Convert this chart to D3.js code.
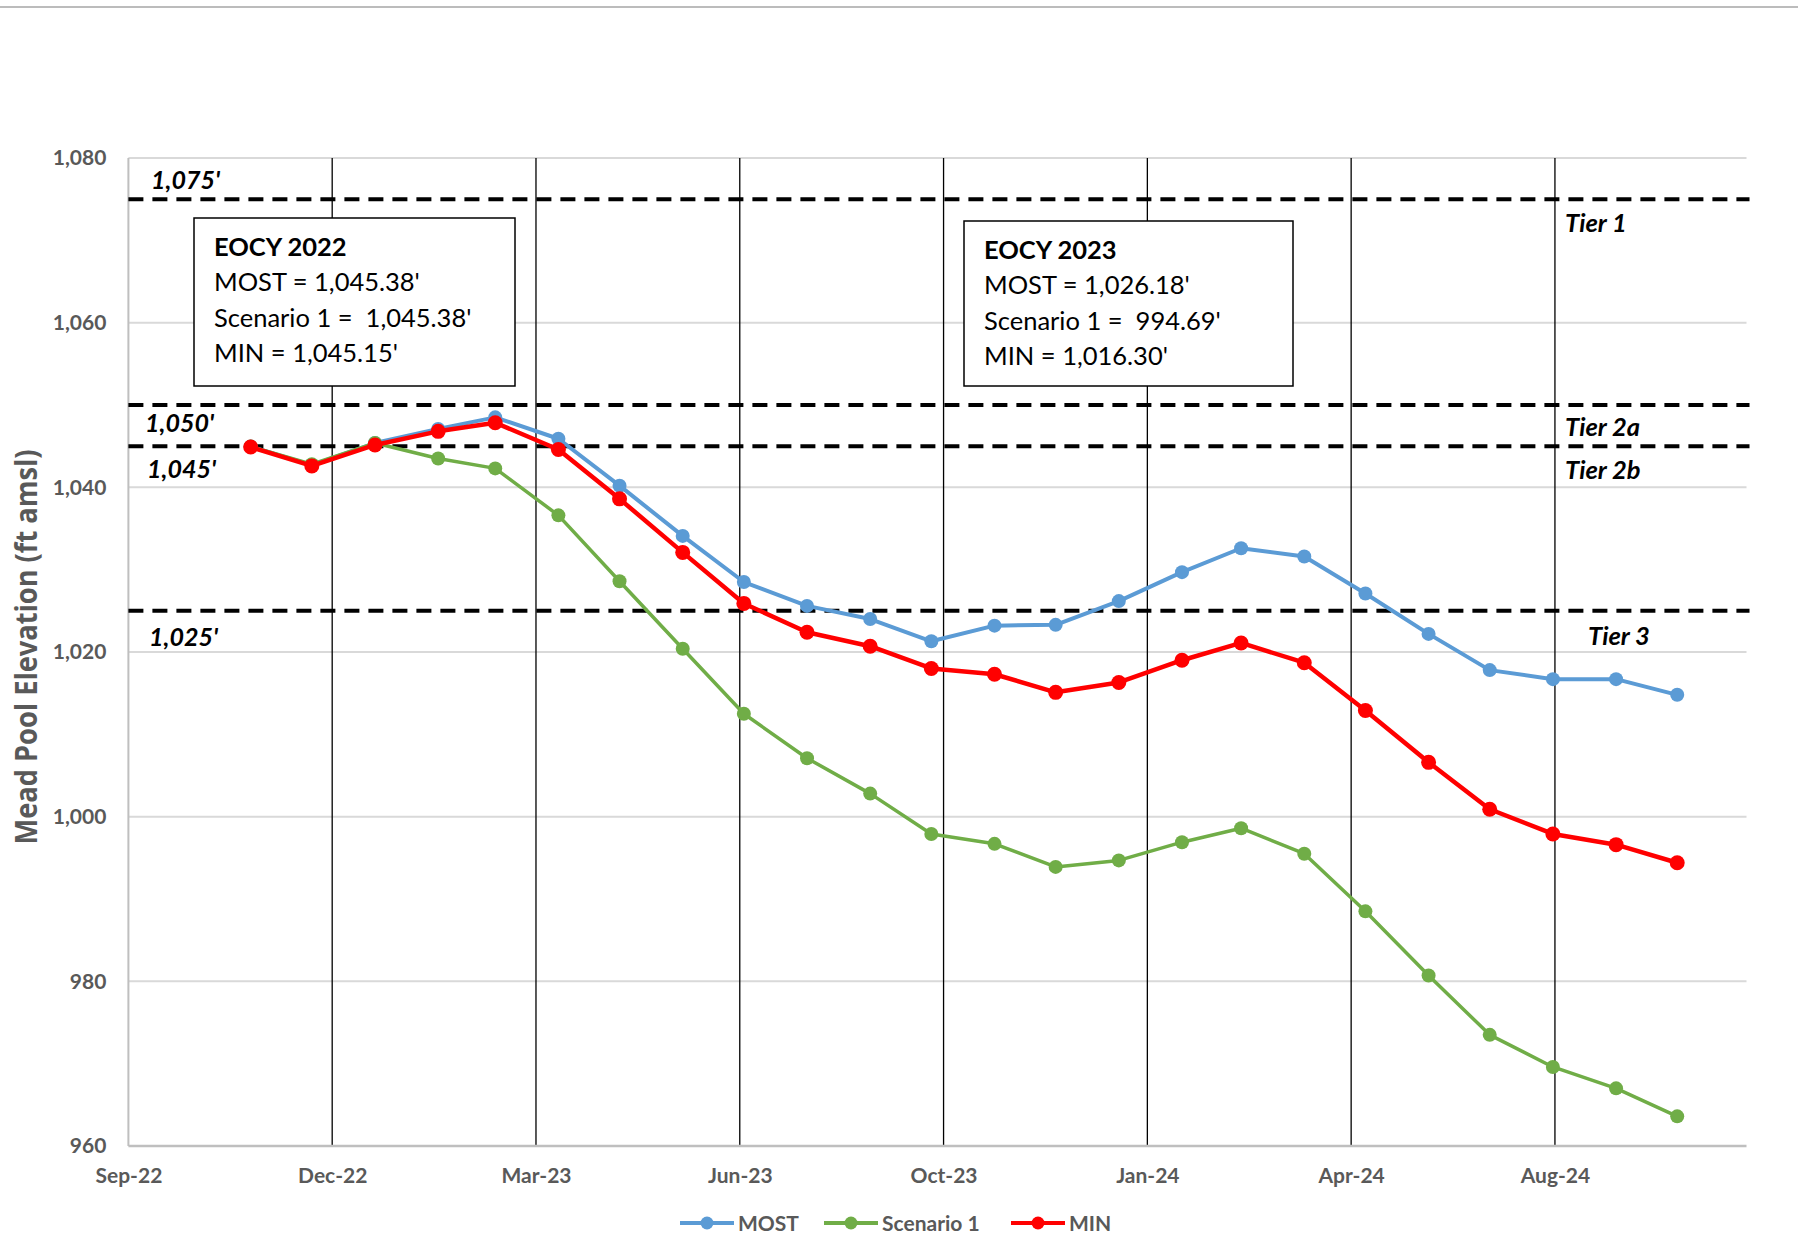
<!DOCTYPE html>
<html>
<head>
<meta charset="utf-8">
<script src="https://cdn.jsdelivr.net/npm/d3@7/dist/d3.min.js"></script>
<style>
    body { margin: 0; background: #fff; }
    svg { display: block; }
    text { font-family: Lato, "Open Sans", sans-serif; }
</style>
</head>
<body>
<script>
// month-end dates, Oct-22 .. Sep-24
const dates = [
    "2022-10-31", "2022-11-30", "2022-12-31", "2023-01-31", "2023-02-28", "2023-03-31",
    "2023-04-30", "2023-05-31", "2023-06-30", "2023-07-31", "2023-08-31", "2023-09-30",
    "2023-10-31", "2023-11-30", "2023-12-31", "2024-01-31", "2024-02-29", "2024-03-31",
    "2024-04-30", "2024-05-31", "2024-06-30", "2024-07-31", "2024-08-31", "2024-09-30"
];
const most = [1044.95, 1042.7, 1045.38, 1047.1, 1048.5, 1045.9, 1040.2, 1034.1, 1028.5, 1025.6, 1024.0, 1021.3,
    1023.2, 1023.3, 1026.18, 1029.7, 1032.6, 1031.6, 1027.1, 1022.2, 1017.8, 1016.7, 1016.7, 1014.8];
const scenario1 = [1044.95, 1042.8, 1045.38, 1043.5, 1042.3, 1036.6, 1028.6, 1020.4, 1012.5, 1007.1, 1002.8, 997.9,
    996.7, 993.9, 994.69, 996.9, 998.6, 995.5, 988.5, 980.7, 973.5, 969.6, 967.0, 963.6];
const minProb = [1044.9, 1042.6, 1045.15, 1046.8, 1047.85, 1044.6, 1038.6, 1032.1, 1025.9, 1022.4, 1020.7, 1018.0,
    1017.3, 1015.1, 1016.30, 1019.0, 1021.1, 1018.7, 1012.9, 1006.6, 1000.9, 997.9, 996.6, 994.4];

const seriesNames = ["MOST", "Scenario 1", "MIN"];
const seriesColors = ["#5B9BD5", "#70AD47", "#FF0000"];

const yTicks = [960, 980, 1000, 1020, 1040, 1060, 1080];
const tierLevels = [1075, 1050, 1045, 1025];
const tierLevelLabels = ["1,075'", "1,050'", "1,045'", "1,025'"];
const tierNames = ["Tier 1", "Tier 2a", "Tier 2b", "Tier 3"];

const eocy2022 = ["EOCY 2022", "MOST = 1,045.38'", "Scenario 1 =  1,045.38'", "MIN = 1,045.15'"];
const eocy2023 = ["EOCY 2023", "MOST = 1,026.18'", "Scenario 1 =  994.69'", "MIN = 1,016.30'"];

const width = 1798;
const height = 1238;

const pl = 128.4;
const pr = 1746.5;
const pt = 158;
const pb = 1146;

const parse = d3.utcParse("%Y-%m-%d");
const start = parse("2022-09-01");

const x = d3.scaleUtc().domain([start, parse("2024-11-03")]).range([pl, pr]);
const y = d3.scaleLinear().domain([960, 1080]).range([pb, pt]);
const xTicks = d3.range(0, 800, 100).map(d => d3.utcDay.offset(start, d));

const series = [most, scenario1, minProb].map((vals, i) => ({
    name: seriesNames[i],
    color: seriesColors[i],
    width: [4, 3.5, 4.5][i],
    r: [7, 7, 7.5][i],
    points: vals.map((v, j) => ({date: parse(dates[j]), value: v})),
}));

const svg = d3.select("body").append("svg")
    .attr("width", width)
    .attr("height", height);

svg.append("rect").attr("width", width).attr("height", height).attr("fill", "#fff");

// top border of the chart frame
svg.append("line")
    .attr("x1", 0).attr("x2", width)
    .attr("y1", 7).attr("y2", 7)
    .attr("stroke", "#a6a6a6")
    .attr("stroke-width", 1.5);

// horizontal gridlines
svg.append("g")
    .selectAll("line")
    .data(yTicks.filter(d => d !== 960))
    .join("line")
    .attr("x1", pl).attr("x2", pr)
    .attr("y1", d => y(d)).attr("y2", d => y(d))
    .attr("stroke", "#d9d9d9")
    .attr("stroke-width", 2);

// vertical black lines
svg.append("g")
    .selectAll("line")
    .data(xTicks.slice(1))
    .join("line")
    .attr("x1", d => x(d)).attr("x2", d => x(d))
    .attr("y1", pt).attr("y2", pb)
    .attr("stroke", "#000")
    .attr("stroke-width", 1.3);

// axis lines
svg.append("line")
    .attr("x1", pl).attr("x2", pl).attr("y1", pt).attr("y2", pb)
    .attr("stroke", "#bfbfbf").attr("stroke-width", 2);
svg.append("line")
    .attr("x1", pl).attr("x2", pr).attr("y1", pb).attr("y2", pb)
    .attr("stroke", "#bfbfbf").attr("stroke-width", 2.5);

// axes
const yAxis = svg.append("g")
    .attr("transform", `translate(${pl},0)`)
    .call(d3.axisLeft(y).tickValues(yTicks).tickFormat(d3.format(",")).tickSize(0).tickPadding(22));
const xAxis = svg.append("g")
    .attr("transform", `translate(0,${pb})`)
    .call(d3.axisBottom(x).tickValues(xTicks).tickFormat(d3.utcFormat("%b-%y")).tickSize(0).tickPadding(22));

[yAxis, xAxis].forEach(ax => {
    ax.select(".domain").remove();
    ax.selectAll("text")
        .attr("fill", "#595959")
        .style("font-family", "Lato, 'Open Sans', sans-serif")
        .style("font-size", "21px")
        .style("font-weight", 700);
});

// y axis title
svg.append("text")
    .attr("transform", "translate(37,647) rotate(-90)")
    .attr("text-anchor", "middle")
    .attr("textLength", 395)
    .attr("lengthAdjust", "spacingAndGlyphs")
    .attr("fill", "#595959")
    .style("font-family", "'Open Sans', sans-serif")
    .style("font-size", "30px")
    .style("font-weight", 700)
    .text("Mead Pool Elevation (ft amsl)");

// text boxes
function eocyBox(lines, bx, by, bw, bh) {
    const g = svg.append("g");
    g.append("rect")
        .attr("x", bx).attr("y", by)
        .attr("width", bw).attr("height", bh)
        .attr("fill", "#fff")
        .attr("stroke", "#000")
        .attr("stroke-width", 1.5);
    g.selectAll("text")
        .data(lines)
        .join("text")
        .attr("x", bx + 20)
        .attr("y", (d, i) => by + 38 + i * 35.3)
        .attr("fill", "#000")
        .style("font-size", "25.5px")
        .style("font-weight", (d, i) => i === 0 ? 700 : 400)
        .style("white-space", "pre")
        .text(d => d);
}
eocyBox(eocy2022, 194, 218, 321, 168);
eocyBox(eocy2023, 964, 221, 329, 165);

// tier dashed lines
svg.append("g")
    .selectAll("line")
    .data(tierLevels)
    .join("line")
    .attr("x1", pl).attr("x2", pr + 3)
    .attr("y1", d => y(d)).attr("y2", d => y(d))
    .attr("stroke", "#000")
    .attr("stroke-width", 4)
    .attr("stroke-dasharray", "15,9");

const levelLabelPos = [[151, -10], [145, 27], [147, 32], [149, 35]];
svg.append("g")
    .selectAll("text")
    .data(tierLevels)
    .join("text")
    .attr("x", (d, i) => levelLabelPos[i][0])
    .attr("y", (d, i) => y(d) + levelLabelPos[i][1])
    .style("font-size", "25px")
    .style("font-weight", 700)
    .style("font-style", "italic")
    .text((d, i) => tierLevelLabels[i]);

const tierNamePos = [[1565, 33], [1565, 31], [1565, 33], [1588, 34]];
svg.append("g")
    .selectAll("text")
    .data(tierLevels)
    .join("text")
    .attr("x", (d, i) => tierNamePos[i][0])
    .attr("y", (d, i) => y(d) + tierNamePos[i][1])
    .style("font-size", "25.5px")
    .style("font-weight", 700)
    .style("font-style", "italic")
    .text((d, i) => tierNames[i]);

// series
const line = d3.line().x(d => x(d.date)).y(d => y(d.value));
const sg = svg.append("g")
    .selectAll("g")
    .data(series)
    .join("g");
sg.append("path")
    .attr("d", d => line(d.points))
    .attr("fill", "none")
    .attr("stroke", d => d.color)
    .attr("stroke-width", d => d.width)
    .attr("stroke-linejoin", "round");
sg.selectAll("circle")
    .data(d => d.points.map(p => ({...p, color: d.color, r: d.r})))
    .join("circle")
    .attr("cx", d => x(d.date))
    .attr("cy", d => y(d.value))
    .attr("r", d => d.r)
    .attr("fill", d => d.color);

// legend
const legendX = [680, 824, 1011];
const legend = svg.append("g")
    .selectAll("g")
    .data(series)
    .join("g")
    .attr("transform", (d, i) => `translate(${legendX[i]},1223)`);
legend.append("line")
    .attr("x1", 0).attr("x2", 54)
    .attr("stroke", d => d.color)
    .attr("stroke-width", 4);
legend.append("circle")
    .attr("cx", 27)
    .attr("r", 6.5)
    .attr("fill", d => d.color);
legend.append("text")
    .attr("x", 58)
    .attr("dy", "0.36em")
    .attr("fill", "#595959")
    .style("font-size", "21px")
    .style("font-weight", 700)
    .text(d => d.name);
</script>
</body>
</html>
